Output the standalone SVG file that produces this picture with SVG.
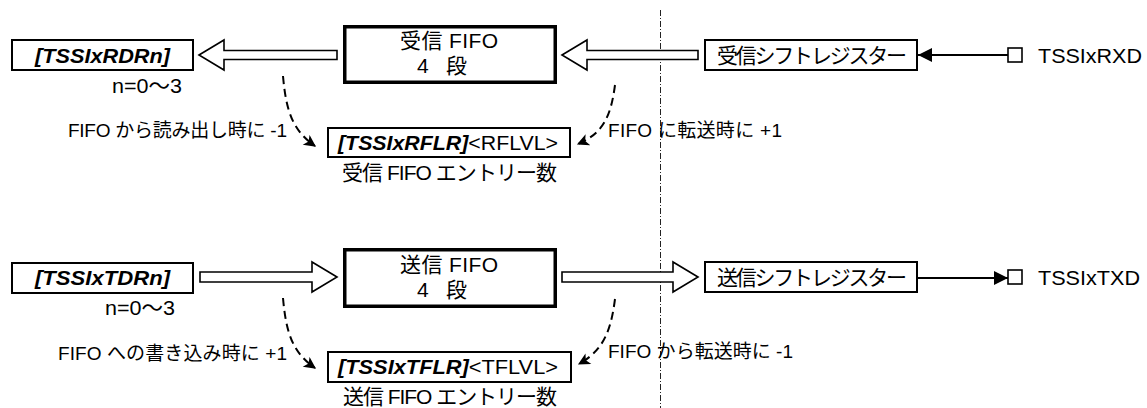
<svg xmlns="http://www.w3.org/2000/svg" width="1147" height="408" viewBox="0 0 1147 408">
<style>
text{font-family:"Liberation Sans","Noto Sans CJK JP",sans-serif;font-size:21px;fill:#000}
.sm{font-size:19px}
.bi{font-weight:bold;font-style:italic}
.box{fill:#fff;stroke:#000;stroke-width:2}
.fifo{fill:#fff;stroke:#000;stroke-width:3.5}
.hollow{fill:#fff;stroke:#000;stroke-width:1.6;stroke-linejoin:miter}
.dash{fill:none;stroke:#000;stroke-width:2;stroke-dasharray:8 5}
.sig{fill:none;stroke:#000;stroke-width:2}
.pin{fill:#fff;stroke:#000;stroke-width:1.6}
.divider{fill:none;stroke:#222;stroke-width:1;stroke-dasharray:6 2 1 2}
</style>
<defs>
<marker id="ah" viewBox="0 0 10 10" refX="9" refY="5" markerWidth="6.5" markerHeight="6" markerUnits="strokeWidth" orient="auto">
<path d="M0,0 L10,5 L0,10 L2.5,5 z" fill="#000"/>
</marker>
<marker id="sh" viewBox="0 0 12 12" refX="12" refY="6" markerWidth="7" markerHeight="7" markerUnits="strokeWidth" orient="auto">
<path d="M0,0 L12,6 L0,12 z" fill="#000"/>
</marker>
</defs>
<line class="divider" x1="660.5" y1="10" x2="660.5" y2="408"/>
<g id="connectors">
<polygon class="hollow" points="199,55 224,40 224,50.5 337,50.5 337,59.5 224,59.5 224,70"/>
<polygon class="hollow" points="562,55 587,40 587,50.5 698,50.5 698,59.5 587,59.5 587,70"/>
<polygon class="hollow" points="337,277 312,262 312,272 200,272 200,282 312,282 312,292"/>
<polygon class="hollow" points="698,277 673,262 673,272 562,272 562,282 673,282 673,292"/>
<line class="sig" x1="1008" y1="55" x2="918" y2="55" marker-end="url(#sh)"/>
<line class="sig" x1="917" y1="278" x2="1008" y2="278" marker-end="url(#sh)"/>
<path class="dash" d="M283,76 C286,110 292,130 315,146" marker-end="url(#ah)"/>
<path class="dash" d="M615,85 C611,115 604,133 578,144" marker-end="url(#ah)"/>
<path class="dash" d="M283,298 C286,332 292,352 315,368" marker-end="url(#ah)"/>
<path class="dash" d="M615,299 C611,330 604,350 579,364" marker-end="url(#ah)"/>
</g>
<g id="rdr">
<rect class="box" x="12" y="40" width="181" height="30"/>
<text class="bi" x="35" y="63" textLength="135" lengthAdjust="spacingAndGlyphs">[TSSIxRDRn]</text>
<text x="112" y="93" textLength="70" lengthAdjust="spacingAndGlyphs">n=0〜3</text>
</g>
<g id="rxfifo">
<rect class="fifo" x="344.75" y="26.75" width="210.5" height="55.5"/>
<text x="400" y="48" textLength="98" lengthAdjust="spacing">受信 FIFO</text>
<text x="417" y="73" textLength="50" lengthAdjust="spacing">4 段</text>
</g>
<g id="rxshift">
<rect class="box" x="705" y="40" width="212" height="30"/>
<text x="717" y="63" textLength="190" lengthAdjust="spacing">受信シフトレジスター</text>
</g>
<g id="rxd">
<rect class="pin" x="1008" y="48" width="14" height="14"/>
<text x="1038" y="63" textLength="104" lengthAdjust="spacingAndGlyphs">TSSIxRXD</text>
</g>
<g id="rflr">
<rect class="box" x="328" y="128" width="242" height="29"/>
<text x="338" y="150" textLength="220" lengthAdjust="spacingAndGlyphs"><tspan class="bi">[TSSIxRFLR]</tspan>&lt;RFLVL&gt;</text>
<text x="342" y="180" textLength="215" lengthAdjust="spacing">受信 FIFO エントリー数</text>
</g>
<g id="rxlabels">
<text class="sm" x="68" y="137" textLength="219" lengthAdjust="spacing">FIFO から読み出し時に  -1</text>
<text class="sm" x="608" y="137" textLength="174" lengthAdjust="spacing">FIFO に転送時に  +1</text>
</g>
<g id="tdr">
<rect class="box" x="12" y="263" width="181" height="30"/>
<text class="bi" x="35" y="285" textLength="135" lengthAdjust="spacingAndGlyphs">[TSSIxTDRn]</text>
<text x="105" y="315" textLength="70" lengthAdjust="spacingAndGlyphs">n=0〜3</text>
</g>
<g id="txfifo">
<rect class="fifo" x="344.75" y="249.75" width="210.5" height="56.5"/>
<text x="400" y="272" textLength="98" lengthAdjust="spacing">送信 FIFO</text>
<text x="417" y="297" textLength="50" lengthAdjust="spacing">4 段</text>
</g>
<g id="txshift">
<rect class="box" x="705" y="262" width="212" height="30"/>
<text x="717" y="285" textLength="190" lengthAdjust="spacing">送信シフトレジスター</text>
</g>
<g id="txd">
<rect class="pin" x="1008" y="270" width="14" height="14"/>
<text x="1038" y="285" textLength="102" lengthAdjust="spacingAndGlyphs">TSSIxTXD</text>
</g>
<g id="tflr">
<rect class="box" x="328" y="352" width="243" height="30"/>
<text x="338" y="374" textLength="220" lengthAdjust="spacingAndGlyphs"><tspan class="bi">[TSSIxTFLR]</tspan>&lt;TFLVL&gt;</text>
<text x="343" y="404" textLength="214" lengthAdjust="spacing">送信 FIFO エントリー数</text>
</g>
<g id="txlabels">
<text class="sm" x="58" y="360" textLength="229" lengthAdjust="spacing">FIFO への書き込み時に  +1</text>
<text class="sm" x="608" y="358" textLength="185" lengthAdjust="spacing">FIFO から転送時に  -1</text>
</g>
</svg>
